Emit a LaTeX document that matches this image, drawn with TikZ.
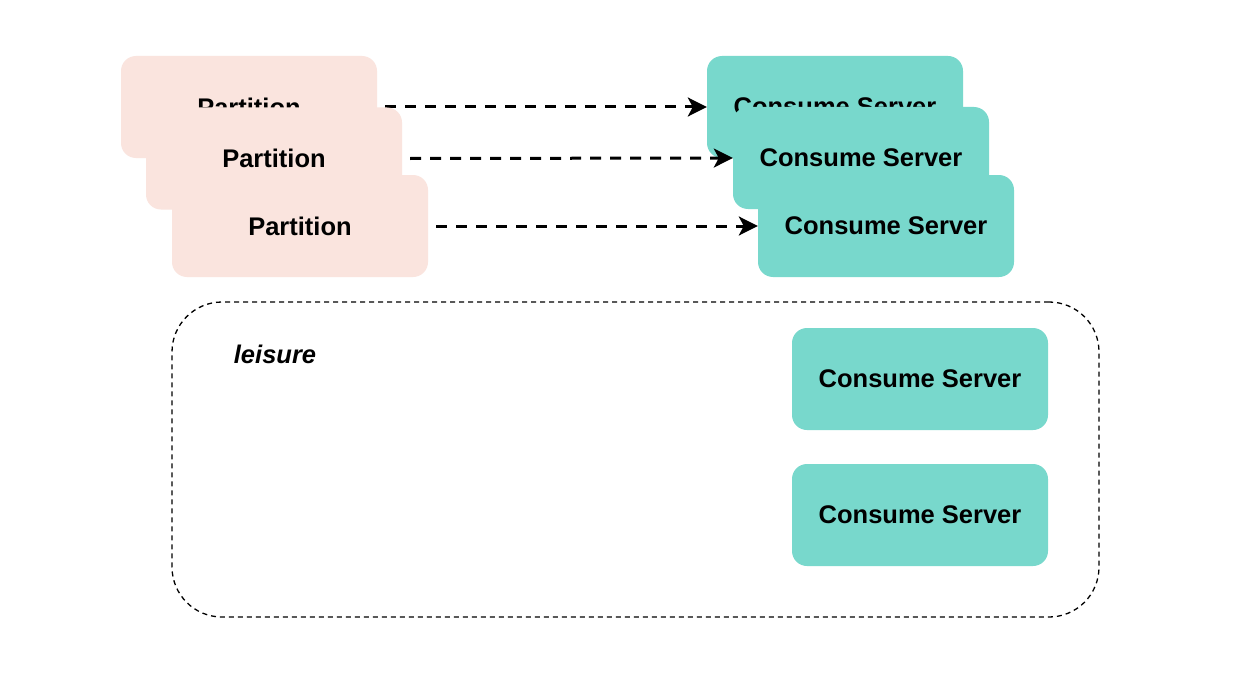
\documentclass[tikz,border=0pt]{standalone}
\usepackage{fontspec}
\setmainfont{Liberation Sans}
\usetikzlibrary{arrows.meta}
\definecolor{pinkfill}{HTML}{FAE4DE}
\definecolor{tealfill}{HTML}{78D8CC}
\begin{document}
\begin{tikzpicture}[x=1pt,y=1pt,
  box/.style={rectangle, rounded corners=15pt, minimum width=256pt, minimum height=102pt, inner sep=0pt,
    font=\fontsize{25.5}{30}\selectfont\bfseries},
  pbox/.style={box, fill=pinkfill},
  cbox/.style={box, fill=tealfill},
  flow/.style={line width=3pt, dash pattern=on 11pt off 9pt, -{Stealth[length=19pt,width=19pt,inset=5pt]}},
]
\useasboundingbox (0,0) rectangle (1252,-682);
\fill[white] (0,0) rectangle (1252,-682);
% leisure group
\node[draw, line width=1.3pt, dash pattern=on 5pt off 4pt, rounded corners=50pt, minimum width=927pt, minimum height=315pt, inner sep=0pt] (grp) at (635.5,-459.5) {};
\node[font=\fontsize{25.5}{30}\selectfont\bfseries\itshape] (lbl) at (275,-354) {leisure};
% first row
\node[pbox] (p1) at (249,-107) {Partition};
\node[cbox] (c1) at (835,-107) {Consume Server};
\draw[flow] ([xshift=8pt]p1.east) -- (c1.west);
% second row
\node[pbox] (p2) at (274,-158.5) {Partition};
\node[cbox] (c2) at (861,-158) {Consume Server};
\draw[flow] ([xshift=8pt]p2.east) -- (c2.west);
% third row
\node[pbox] (p3) at (300,-226) {Partition};
\node[cbox] (c3) at (886,-226) {Consume Server};
\draw[flow] ([xshift=8pt]p3.east) -- (c3.west);
% idle servers
\node[cbox] (c4) at (920,-379) {Consume Server};
\node[cbox] (c5) at (920,-515) {Consume Server};
\end{tikzpicture}
\end{document}
